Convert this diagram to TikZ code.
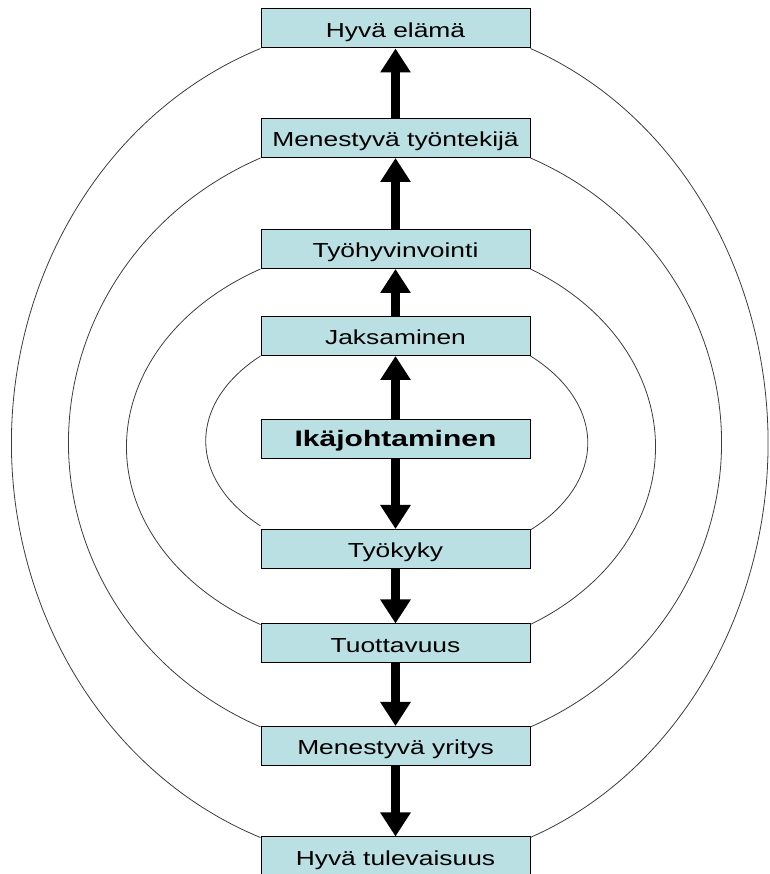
\documentclass[tikz,border=0pt]{standalone}
\usepackage{fontspec}
\setmainfont{Liberation Sans}[FakeStretch=1.3]
\newfontfamily\boldboxfont{Liberation Sans}[FakeStretch=1.34]
\usetikzlibrary{arrows.meta}
\definecolor{boxfill}{RGB}{187,224,227}
\definecolor{ringcol}{RGB}{60,60,60}
\begin{document}
\begin{tikzpicture}[x=1pt,y=1pt,
  box/.style={draw=black, line width=1pt, fill=boxfill, minimum width=269pt,
    minimum height=39pt, inner sep=0pt, text height=18pt, text depth=0pt,
    font=\fontsize{20.3}{23}\selectfont},
  boldbox/.style={box, text height=16pt, font=\boldboxfont\bfseries\fontsize{22.4}{26}\selectfont},
  flow/.style={draw=black, line width=9.5pt, -{Triangle[width=29pt,length=24pt]}},
  ring/.style={draw=ringcol, line width=0.8pt}]
\useasboundingbox (0,0) rectangle (769,874);
\node[box] (he) at (395.5,845.5) {Hyvä elämä};
\node[box] (mt) at (395.5,736) {Menestyvä työntekijä};
\node[box] (th) at (395.5,625) {Työhyvinvointi};
\node[box] (jk) at (395.5,538) {Jaksaminen};
\node[boldbox] (ij) at (395.5,435) {Ikäjohtaminen};
\node[box] (tk) at (395.5,325) {Työkyky};
\node[box] (tu) at (395.5,230.5) {Tuottavuus};
\node[box] (my) at (395.5,128) {Menestyvä yritys};
\node[box] (ht) at (395.5,17.5) {Hyvä tulevaisuus};
% arrows
\draw[flow] (mt.north) -- (he.south);
\draw[flow] (th.north) -- (mt.south);
\draw[flow] (jk.north) -- (th.south);
\draw[flow] (ij.north) -- (jk.south);
\draw[flow] (ij.south) -- (tk.north);
\draw[flow] (tk.south) -- (tu.north);
\draw[flow] (tu.south) -- (my.north);
\draw[flow] (my.south) -- (ht.north);
% rings
\draw[ring] (jk.south west) arc[start angle=135.67, end angle=224.33, x radius=192.5pt, y radius=121.6pt];
\draw[ring] (jk.south east) arc[start angle=45.47, end angle=-45.47, x radius=191.8pt, y radius=122.0pt];
\draw[ring] (th.south west) arc[start angle=120.06, end angle=239.94, x radius=268.5pt, y radius=205.4pt];
\draw[ring] (th.south east) arc[start angle=58.78, end angle=-58.78, x radius=259.5pt, y radius=207.8pt];
\draw[ring] (mt.south west) arc[start angle=114.33, end angle=245.67, x radius=326.5pt, y radius=312.2pt];
\draw[ring] (mt.south east) arc[start angle=65.59, end angle=-65.59, x radius=325.5pt, y radius=312.4pt];
\draw[ring] (he.south west) arc[start angle=110.53, end angle=249.47, x radius=383.5pt, y radius=421.3pt];
\draw[ring] (he.south east) arc[start angle=68.8, end angle=-68.8, x radius=372pt, y radius=423.1pt];
\end{tikzpicture}
\end{document}
